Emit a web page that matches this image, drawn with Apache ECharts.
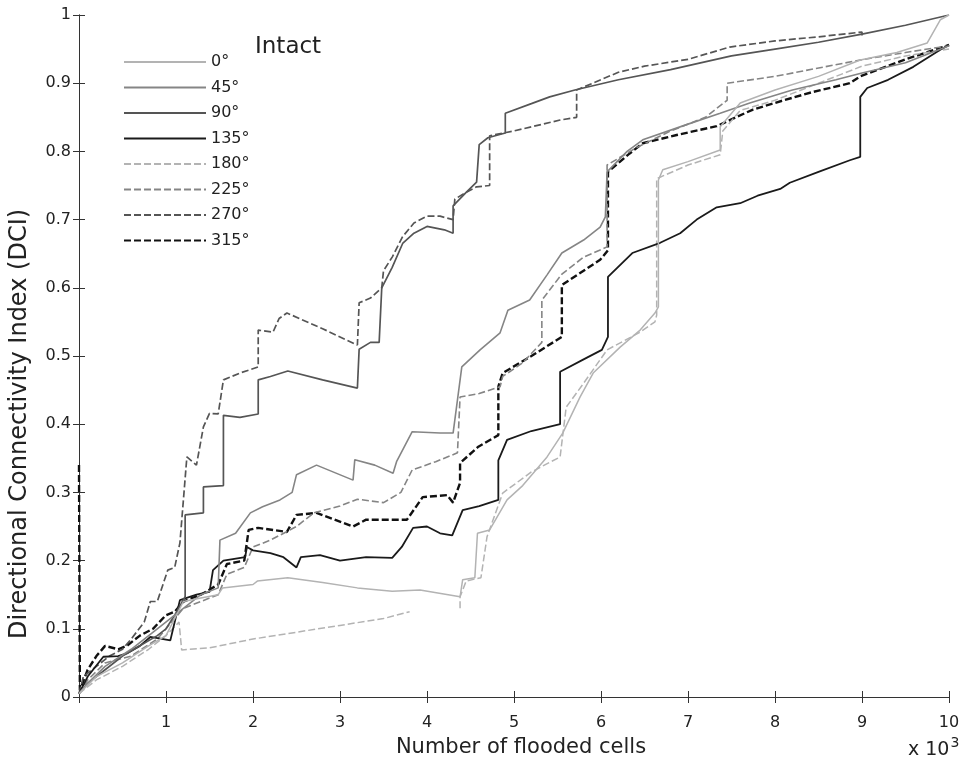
<!DOCTYPE html>
<html>
<head>
<meta charset="utf-8">
<script src="https://cdn.jsdelivr.net/npm/echarts@6/dist/echarts.min.js"></script>
<style>
html,body{margin:0;padding:0;background:#fff;}
#chart{width:968px;height:769px;}
</style>
</head>
<body>
<div id="chart"></div>
<script>
// Directions (legend entries)
var directions = ['0°', '45°', '90°', '135°', '180°', '225°', '270°', '315°'];
// x in thousands of flooded cells, y = DCI
var deg0 = [[0,0.005],[0.2,0.03],[0.5,0.05],[0.8,0.075],[1.0,0.09],[1.2,0.14],[1.4,0.145],[1.6,0.15],[1.65,0.16],[2.0,0.165],[2.05,0.17],[2.4,0.175],[2.8,0.168],[3.2,0.16],[3.6,0.155],[3.92,0.157],[4.38,0.147],[4.41,0.172],[4.55,0.175],[4.58,0.24],[4.72,0.245],[4.92,0.289],[5.1,0.31],[5.38,0.352],[5.56,0.387],[5.76,0.44],[5.91,0.475],[6.22,0.513],[6.45,0.538],[6.62,0.563],[6.66,0.572],[6.66,0.758],[6.71,0.773],[7.0,0.785],[7.37,0.802],[7.37,0.836],[7.6,0.871],[8.0,0.89],[8.5,0.91],[8.98,0.934],[9.4,0.945],[9.75,0.959],[9.9,0.993],[10,1.0]];
var deg45 = [[0,0.005],[0.1,0.02],[0.3,0.045],[0.6,0.07],[0.9,0.1],[1.1,0.12],[1.2,0.13],[1.4,0.15],[1.6,0.16],[1.62,0.23],[1.8,0.24],[1.97,0.27],[2.11,0.279],[2.31,0.289],[2.45,0.3],[2.5,0.326],[2.73,0.34],[3.15,0.318],[3.17,0.348],[3.4,0.34],[3.61,0.328],[3.65,0.345],[3.83,0.389],[4.15,0.387],[4.3,0.387],[4.4,0.484],[4.61,0.509],[4.84,0.534],[4.93,0.567],[5.18,0.582],[5.38,0.619],[5.55,0.651],[5.8,0.67],[5.99,0.689],[6.05,0.704],[6.07,0.77],[6.3,0.8],[6.48,0.817],[7.0,0.84],[7.37,0.856],[7.71,0.871],[8.2,0.89],[8.7,0.905],[9.0,0.915],[9.5,0.93],[10,0.955]];
var deg90 = [[0,0.005],[0.1,0.02],[0.3,0.04],[0.5,0.06],[0.7,0.075],[0.9,0.09],[1.0,0.1],[1.1,0.12],[1.22,0.147],[1.22,0.267],[1.43,0.27],[1.43,0.308],[1.66,0.31],[1.66,0.413],[1.85,0.41],[2.06,0.415],[2.06,0.465],[2.2,0.47],[2.4,0.478],[2.8,0.465],[3.2,0.453],[3.22,0.51],[3.35,0.52],[3.45,0.52],[3.48,0.6],[3.6,0.63],[3.72,0.665],[3.85,0.68],[4.0,0.69],[4.2,0.685],[4.3,0.68],[4.3,0.72],[4.45,0.74],[4.57,0.755],[4.6,0.81],[4.7,0.82],[4.9,0.827],[4.9,0.856],[5.2,0.87],[5.41,0.88],[5.7,0.89],[6.2,0.905],[6.8,0.92],[7.5,0.94],[8.0,0.95],[8.5,0.96],[9.0,0.972],[9.5,0.985],[10,1.0]];
var deg135 = [[0,0.005],[0.1,0.03],[0.28,0.059],[0.45,0.06],[0.55,0.064],[0.7,0.075],[0.82,0.088],[1.05,0.083],[1.1,0.11],[1.16,0.142],[1.35,0.15],[1.5,0.154],[1.54,0.186],[1.66,0.2],[1.91,0.205],[1.93,0.22],[2.0,0.215],[2.2,0.211],[2.35,0.205],[2.5,0.19],[2.55,0.205],[2.77,0.208],[3.0,0.2],[3.3,0.205],[3.6,0.204],[3.71,0.22],[3.84,0.248],[4.0,0.25],[4.15,0.24],[4.29,0.237],[4.41,0.274],[4.6,0.28],[4.82,0.289],[4.82,0.347],[4.92,0.377],[5.2,0.39],[5.53,0.4],[5.53,0.477],[5.8,0.495],[6.01,0.509],[6.08,0.528],[6.08,0.616],[6.36,0.651],[6.68,0.666],[6.91,0.68],[7.1,0.7],[7.33,0.718],[7.6,0.724],[7.8,0.735],[8.06,0.745],[8.17,0.754],[8.5,0.77],[8.86,0.787],[8.98,0.792],[8.98,0.88],[9.06,0.893],[9.3,0.905],[9.59,0.924],[9.9,0.949],[10,0.956]];
var deg180 = [[0,0.005],[0.2,0.025],[0.5,0.045],[0.8,0.07],[1.0,0.09],[1.15,0.11],[1.18,0.069],[1.5,0.072],[2.0,0.085],[2.5,0.095],[3.0,0.105],[3.5,0.115],[3.8,0.125],[4.1,'-'],[4.38,0.13],[4.38,0.147],[4.45,0.17],[4.62,0.175],[4.69,0.235],[4.87,0.299],[5.2,0.33],[5.53,0.352],[5.6,0.425],[5.8,0.46],[6.07,0.509],[6.45,0.535],[6.62,0.55],[6.64,0.56],[6.64,0.76],[7.0,0.78],[7.37,0.795],[7.4,0.83],[7.6,0.86],[8.0,0.875],[8.5,0.9],[9.0,0.925],[9.5,0.94],[10,0.95]];
var deg225 = [[0,0.005],[0.1,0.025],[0.3,0.05],[0.6,0.06],[0.9,0.085],[1.0,0.1],[1.2,0.13],[1.4,0.14],[1.6,0.15],[1.7,0.18],[1.9,0.19],[2.0,0.22],[2.2,0.23],[2.5,0.25],[2.7,0.27],[3.0,0.28],[3.2,0.29],[3.5,0.285],[3.7,0.3],[3.83,0.333],[4.1,0.345],[4.35,0.358],[4.38,0.44],[4.6,0.445],[4.84,0.455],[4.87,0.47],[5.1,0.49],[5.32,0.52],[5.32,0.582],[5.55,0.62],[5.8,0.645],[6.07,0.66],[6.07,0.78],[6.4,0.805],[6.8,0.83],[7.2,0.85],[7.45,0.875],[7.45,0.9],[8.0,0.91],[8.98,0.934],[9.5,0.945],[10,0.955]];
var deg270 = [[0,0.005],[0.05,0.03],[0.2,0.045],[0.35,0.06],[0.5,0.07],[0.6,0.085],[0.75,0.11],[0.82,0.14],[0.9,0.14],[1.02,0.186],[1.1,0.19],[1.16,0.226],[1.24,0.352],[1.35,0.34],[1.43,0.396],[1.5,0.416],[1.6,0.415],[1.66,0.465],[1.85,0.475],[2.06,0.484],[2.06,0.538],[2.23,0.535],[2.3,0.555],[2.39,0.563],[2.8,0.54],[3.2,0.516],[3.22,0.578],[3.35,0.585],[3.48,0.6],[3.5,0.625],[3.6,0.645],[3.72,0.675],[3.85,0.695],[4.0,0.705],[4.15,0.705],[4.3,0.7],[4.32,0.73],[4.45,0.74],[4.57,0.748],[4.72,0.75],[4.72,0.823],[5.0,0.83],[5.53,0.846],[5.72,0.85],[5.72,0.89],[6.2,0.916],[6.5,0.925],[7.0,0.935],[7.48,0.953],[8.0,0.962],[8.5,0.968],[9.0,0.975],[9.0,0.966]];
var deg315 = [[0,0.34],[0.01,0.01],[0.1,0.04],[0.2,0.06],[0.3,0.075],[0.45,0.07],[0.55,0.075],[0.7,0.09],[0.85,0.1],[1.0,0.12],[1.1,0.125],[1.2,0.14],[1.4,0.15],[1.6,0.165],[1.7,0.195],[1.9,0.2],[1.95,0.245],[2.06,0.248],[2.39,0.242],[2.5,0.267],[2.73,0.27],[3.15,0.25],[3.3,0.26],[3.77,0.26],[3.95,0.293],[4.23,0.296],[4.3,0.285],[4.38,0.314],[4.38,0.343],[4.59,0.367],[4.82,0.384],[4.82,0.455],[4.87,0.475],[5.2,0.5],[5.55,0.528],[5.55,0.604],[5.99,0.641],[6.08,0.655],[6.08,0.77],[6.33,0.797],[6.48,0.812],[6.87,0.824],[7.33,0.837],[7.74,0.861],[8.1,0.875],[8.43,0.887],[8.86,0.9],[8.98,0.91],[9.5,0.935],[10,0.956]];
var seriesData = [deg0, deg45, deg90, deg135, deg180, deg225, deg270, deg315];
var xTicks = [1,2,3,4,5,6,7,8,9,10];
var yTicks = [0,0.1,0.2,0.3,0.4,0.5,0.6,0.7,0.8,0.9,1];

var colors = ['#b3b3b3', '#858585', '#555555', '#1a1a1a', '#b3b3b3', '#858585', '#555555', '#111111'];
var dashes = [null, null, null, null, [7,3], [7,3], [7,3], [7,3]];
var widths = [1.5, 1.6, 1.7, 1.8, 1.5, 1.6, 1.7, 2.4];

var FONT = 'DejaVu Sans';
var chart = echarts.init(document.getElementById('chart'));
var series = directions.map(function (name, i) {
  return {
    name: name,
    type: 'line',
    data: seriesData[i],
    symbol: 'none',
    connectNulls: false,
    xAxisIndex: 0,
    yAxisIndex: 0,
    lineStyle: {color: colors[i], width: widths[i], type: dashes[i] || 'solid'},
    itemStyle: {color: colors[i]},
    z: 10 - i
  };
});
var axisLine = {show: true, lineStyle: {color: '#333', width: 1}};
chart.setOption({
  animation: false,
  backgroundColor: '#fff',
  grid: {left: 79, right: 19, top: 15, bottom: 72, containLabel: false},
  legend: {
    data: directions,
    orient: 'vertical',
    left: 118, top: 49,
    itemWidth: 82, itemHeight: 14, itemGap: 9.5,
    itemStyle: {opacity: 0},
    textStyle: {fontFamily: FONT, fontSize: 16, color: '#222'},
    selectedMode: false
  },
  xAxis: [{
    type: 'value', min: 0, max: 10, interval: 1, position: 'bottom',
    axisLine: axisLine,
    axisTick: {show: true, inside: true, length: 6, lineStyle: {color: '#333'}},
    splitLine: {show: false},
    axisLabel: {fontFamily: FONT, fontSize: 16, color: '#222', margin: 18,
      formatter: function (v) { return v === 0 ? '' : String(v); }}
  }, {
    type: 'value', min: 0, max: 10, interval: 1, position: 'top',
    axisLine: axisLine,
    axisTick: {show: true, inside: true, length: 6, lineStyle: {color: '#333'}},
    splitLine: {show: false}, axisLabel: {show: false}
  }],
  yAxis: [{
    type: 'value', min: 0, max: 1, interval: 0.1, position: 'left',
    axisLine: axisLine,
    axisTick: {show: true, inside: true, length: 6, lineStyle: {color: '#333'}},
    splitLine: {show: false},
    axisLabel: {fontFamily: FONT, fontSize: 16, color: '#222', margin: 8,
      formatter: function (v) { return String(Math.round(v * 10) / 10); }}
  }, {
    type: 'value', min: 0, max: 1, interval: 0.1, position: 'right',
    axisLine: axisLine,
    axisTick: {show: true, inside: true, length: 6, lineStyle: {color: '#333'}},
    splitLine: {show: false}, axisLabel: {show: false}
  }],
  graphic: [
    {type: 'text', left: 255, top: 36, style: {text: 'Intact', fontFamily: FONT, fontSize: 23, fill: '#222'}},
    {type: 'text', x: 521, y: 748, style: {text: 'Number of flooded cells', fontFamily: FONT, fontSize: 21, fill: '#222', align: 'center', verticalAlign: 'middle'}},
    {type: 'text', x: 20, y: 424, rotation: Math.PI / 2, style: {text: 'Directional Connectivity Index (DCI)', fontFamily: FONT, fontSize: 24, fill: '#222', align: 'center', verticalAlign: 'middle'}},
    {type: 'text', x: 908, y: 750, style: {text: '{a|x 10}{b|3}', fontFamily: FONT, fill: '#222', verticalAlign: 'middle',
      rich: {a: {fontFamily: FONT, fontSize: 19, fill: '#222'}, b: {fontFamily: FONT, fontSize: 14, fill: '#222', verticalAlign: 'top', padding: [0,0,14,1]}}}}
  ],
  series: series
});
</script>
</body>
</html>
